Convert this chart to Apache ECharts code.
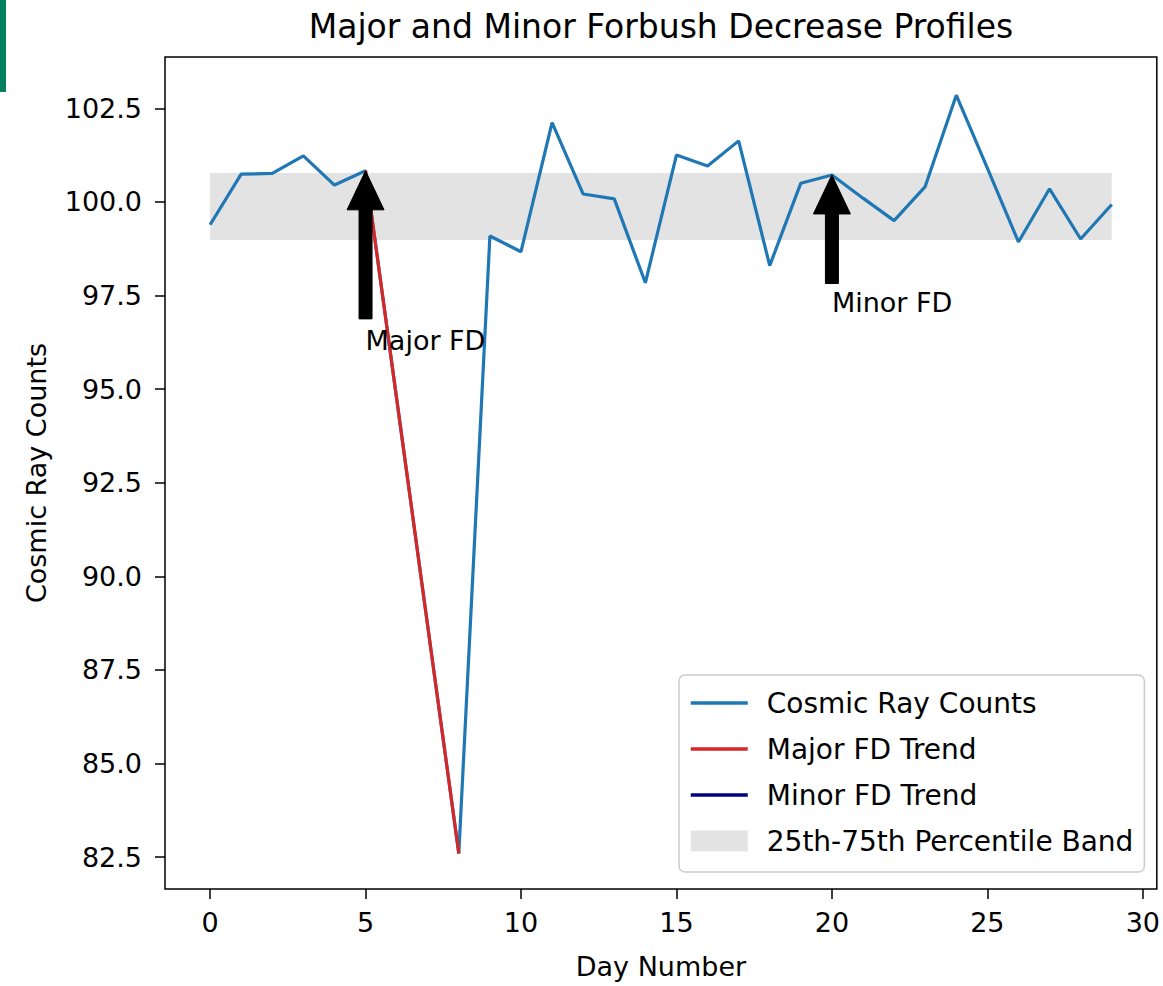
<!DOCTYPE html>
<html>
<head>
<meta charset="utf-8">
<script src="https://cdn.jsdelivr.net/npm/echarts@6/dist/echarts.min.js"></script>
<style>html,body{margin:0;padding:0;background:#fff}#c{width:1163px;height:986px}</style>
</head>
<body>
<div id="c"></div>
<script>
// ---- data ----
const days = [0,1,2,3,4,5,6,7,8,9,10,11,12,13,14,15,16,17,18,19,20,21,22,23,24,25,26,27,28,29];
const counts = [99.39,100.74,100.76,101.23,100.45,100.83,94.75,88.67,82.6,99.09,98.67,102.12,100.21,100.08,97.84,101.25,100.96,101.63,98.3,100.5,100.72,100.1,99.5,100.41,102.85,100.9,98.93,100.35,99.01,99.93];
const majorDays = [5,6,7,8];
const minorDays = [];
const bandLow = 98.98;
const bandHigh = 100.77;
const annotDays = [5, 20];
const annotTextY = [96.0, 97.0];
const annotLabels = ['Major FD', 'Minor FD'];
const xTicks = [0,5,10,15,20,25,30];
const yTicks = [82.5,85,87.5,90,92.5,95,97.5,100,102.5];

const FONT = 'DejaVu Sans';
const chart = echarts.init(document.getElementById('c'), null, {renderer:'svg'});

const cosmicData = days.map((d,i)=>[d, counts[i]]);
const majorData = majorDays.map(d=>[d, counts[days.indexOf(d)]]);
const minorData = minorDays.map(d=>[d, counts[days.indexOf(d)]]);
const annotData = annotDays.map((d,i)=>[d, counts[days.indexOf(d)], annotTextY[i]]);

chart.setOption({
  animation:false,
  backgroundColor:'#fff',
  graphic:[
    {type:'rect', shape:{x:0,y:0,width:6,height:92}, style:{fill:'#00805f'}},
    {type:'text', x:661, y:26, style:{text:'Major and Minor Forbush Decrease Profiles', fontFamily:FONT, fontSize:33, fill:'#000', textAlign:'center', textVerticalAlign:'middle'}}
  ],
  grid:{left:165, right:6, top:57, bottom:97, show:true, borderColor:'#000', borderWidth:1.5, backgroundColor:'transparent'},
  xAxis:{
    type:'value', min:-1.45, max:30.45,
    name:'Day Number', nameLocation:'middle', nameGap:64,
    nameTextStyle:{fontFamily:FONT, fontSize:27, color:'#000'},
    axisLine:{show:false, onZero:false},
    splitLine:{show:false},
    axisTick:{show:true, length:10, lineStyle:{color:'#000', width:1.5}, customValues:xTicks},
    axisLabel:{fontFamily:FONT, fontSize:27, color:'#000', margin:20, customValues:xTicks}
  },
  yAxis:{
    type:'value', min:81.65, max:103.87,
    name:'Cosmic Ray Counts', nameLocation:'middle', nameGap:115, nameRotate:90,
    nameTextStyle:{fontFamily:FONT, fontSize:27, color:'#000'},
    axisLine:{show:false, onZero:false},
    splitLine:{show:false},
    axisTick:{show:true, length:10, lineStyle:{color:'#000', width:1.5}, customValues:yTicks},
    axisLabel:{fontFamily:FONT, fontSize:27, color:'#000', margin:23, customValues:yTicks, formatter:v=>v.toFixed(1)}
  },
  legend:{
    orient:'vertical', left:679, top:675,
    padding:[14,11,17,10],
    backgroundColor:'rgba(255,255,255,0.8)',
    borderColor:'#cccccc', borderWidth:1.5, borderRadius:6,
    itemWidth:57, itemHeight:21, itemGap:18,
    lineStyle:{width:3.5},
    textStyle:{fontFamily:FONT, fontSize:28, color:'#000', lineHeight:27, padding:[0,0,0,14]},
    data:[
      {name:'Cosmic Ray Counts', itemStyle:{opacity:0}},
      {name:'Major FD Trend', itemStyle:{opacity:0}},
      {name:'Minor FD Trend', itemStyle:{opacity:0}},
      {name:'25th-75th Percentile Band', icon:'rect'}
    ]
  },
  series:[
    {
      name:'25th-75th Percentile Band', type:'custom', z:1,
      itemStyle:{color:'rgba(128,128,128,0.22)'},
      encode:{x:[0,1], y:[2,3]},
      data:[[days[0], days[days.length-1], bandLow, bandHigh]],
      renderItem:function(params, api){
        const p0 = api.coord([api.value(0), api.value(3)]);
        const p1 = api.coord([api.value(1), api.value(2)]);
        return {type:'rect', shape:{x:p0[0], y:p0[1], width:p1[0]-p0[0], height:p1[1]-p0[1]}, style:{fill:'rgba(128,128,128,0.22)'}};
      }
    },
    {
      name:'Cosmic Ray Counts', type:'line', z:2, data:cosmicData,
      symbol:'none', showSymbol:false,
      lineStyle:{color:'#1f77b4', width:3.2}, itemStyle:{color:'#1f77b4'}
    },
    {
      name:'Major FD Trend', type:'line', z:3, data:majorData,
      symbol:'none', showSymbol:false,
      lineStyle:{color:'#d62728', width:3.2}, itemStyle:{color:'#d62728'}
    },
    {
      name:'Minor FD Trend', type:'line', z:3, data:minorData,
      symbol:'none', showSymbol:false,
      lineStyle:{color:'#000080', width:3.2}, itemStyle:{color:'#000080'}
    },
    {
      name:'annotations', type:'custom', z:10, silent:true,
      encode:{x:0, y:[1,2]},
      data:annotData,
      renderItem:function(params, api){
        const tip = api.coord([api.value(0), api.value(1)]);
        const txt = api.coord([api.value(0), api.value(2)]);
        const cx = tip[0];
        const textTop = txt[1] - 25;
        const bottom = textTop - 0.05*(textTop - tip[1]);
        const headLen = 39, headHalf = 18.5, shaftHalf = 6.5;
        const hb = tip[1] + headLen;
        return {type:'group', children:[
          {type:'polygon', shape:{points:[
            [cx, tip[1]], [cx+headHalf, hb], [cx+shaftHalf, hb], [cx+shaftHalf, bottom],
            [cx-shaftHalf, bottom], [cx-shaftHalf, hb], [cx-headHalf, hb]
          ]}, style:{fill:'#000', stroke:'#000', lineWidth:1}},
          {type:'text', x:txt[0], y:txt[1]+2, style:{text:annotLabels[params.dataIndex], fontFamily:FONT, fontSize:27, fill:'#000', textAlign:'left', textVerticalAlign:'bottom'}}
        ]};
      }
    }
  ]
});
</script>
</body>
</html>
